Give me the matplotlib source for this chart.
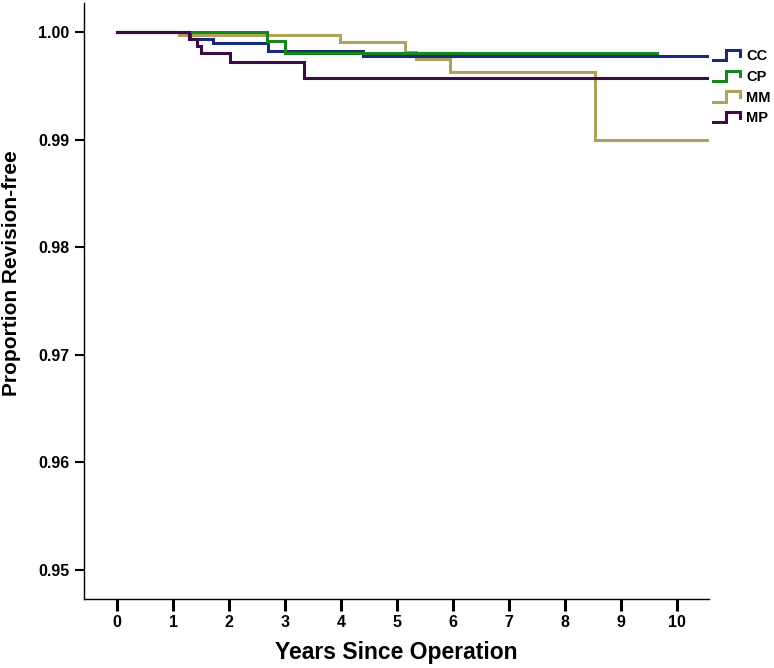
import numpy as np
import matplotlib
matplotlib.use('Agg')
import matplotlib.pyplot as plt
from matplotlib.lines import Line2D
from matplotlib.legend_handler import HandlerBase

plt.rcParams['font.family'] = ['Liberation Sans', 'DejaVu Sans']
plt.rcParams['font.weight'] = 'bold'

# Kaplan-Meier steps (years, proportion revision-free)
groups = ['CC', 'CP', 'MM', 'MP']
colors = {'CC': '#1c2a7c', 'CP': '#17871c', 'MM': '#ada35e', 'MP': '#3c0c45'}

cc_t = [0, 1.30, 1.71, 2.70, 4.40, 10.55]
cc_s = [1.0, 0.99938, 0.99897, 0.99826, 0.99781, 0.99781]

cp_t = [0, 2.67, 3.00, 9.64]
cp_s = [1.0, 0.99919, 0.99802, 0.99802]

mm_t = [0, 1.11, 3.98, 5.14, 5.34, 5.95, 8.54, 10.55]
mm_s = [1.0, 0.99969, 0.99907, 0.99817, 0.99746, 0.99625, 0.98998, 0.98998]

mp_t = [0, 1.29, 1.42, 1.50, 2.02, 3.33, 10.55]
mp_s = [1.0, 0.99938, 0.99870, 0.99802, 0.99718, 0.99575, 0.99575]

xticks = list(range(0, 11))
yticks = [0.95, 0.96, 0.97, 0.98, 0.99, 1.00]


class StepHandler(HandlerBase):
    # little step-shaped legend key like the original
    def create_artists(self, legend, orig_handle, xdescent, ydescent,
                       width, height, fontsize, trans):
        x = np.array([0, 0.48, 0.48, 1.0, 1.0]) * width - xdescent
        y = np.array([0.0, 0.0, 1.0, 1.0, 0.45]) * height - ydescent
        ln = Line2D(x, y, color=orig_handle.get_color(),
                    lw=orig_handle.get_linewidth(), transform=trans,
                    solid_joinstyle='miter')
        return [ln]


fig = plt.figure(figsize=(7.74, 6.68), dpi=100)
ax = fig.add_axes([84/774, 1 - 599/668, 625/774, 596/668])

data = {'CC': (cc_t, cc_s), 'CP': (cp_t, cp_s), 'MM': (mm_t, mm_s), 'MP': (mp_t, mp_s)}
handles = {}
for g in ['MM', 'CC', 'CP', 'MP']:
    t, s = data[g]
    h, = ax.step(t, s, where='post', color=colors[g], lw=2.2,
                 solid_joinstyle='miter')
    handles[g] = h

ax.set_xlim(-0.59, 10.57)
ax.set_ylim(0.9473, 1.0027)
ax.set_xticks(xticks)
ax.set_yticks(yticks)
ax.set_yticklabels([f'{v:.2f}' for v in yticks])

for side in ['top', 'right']:
    ax.spines[side].set_visible(False)
for side in ['left', 'bottom']:
    ax.spines[side].set_linewidth(1.0)

ax.tick_params(axis='x', direction='out', length=8.6, width=2.2, pad=3,
               labelsize=11.5)
ax.tick_params(axis='y', direction='out', length=6.5, width=1.5, pad=4,
               labelsize=11.5)

ax.set_xlabel('Years Since Operation', fontsize=16.5, fontweight='bold')
ax.set_ylabel('Proportion Revision-free', fontsize=15, fontweight='bold')
ax.xaxis.set_label_coords(0.5, -0.07)
ax.yaxis.set_label_coords(-0.1, 0.547)

leg = ax.legend([handles[g] for g in groups], groups,
                handler_map={Line2D: StepHandler()},
                loc='upper left', bbox_to_anchor=(1.006, 0.922),
                frameon=False, borderpad=0, borderaxespad=0,
                fontsize=10.5, handlelength=1.9, handleheight=0.7,
                handletextpad=0.4, labelspacing=0.45)
for txt in leg.get_texts():
    txt.set_fontweight('bold')

fig.savefig('out.png', dpi=100)
